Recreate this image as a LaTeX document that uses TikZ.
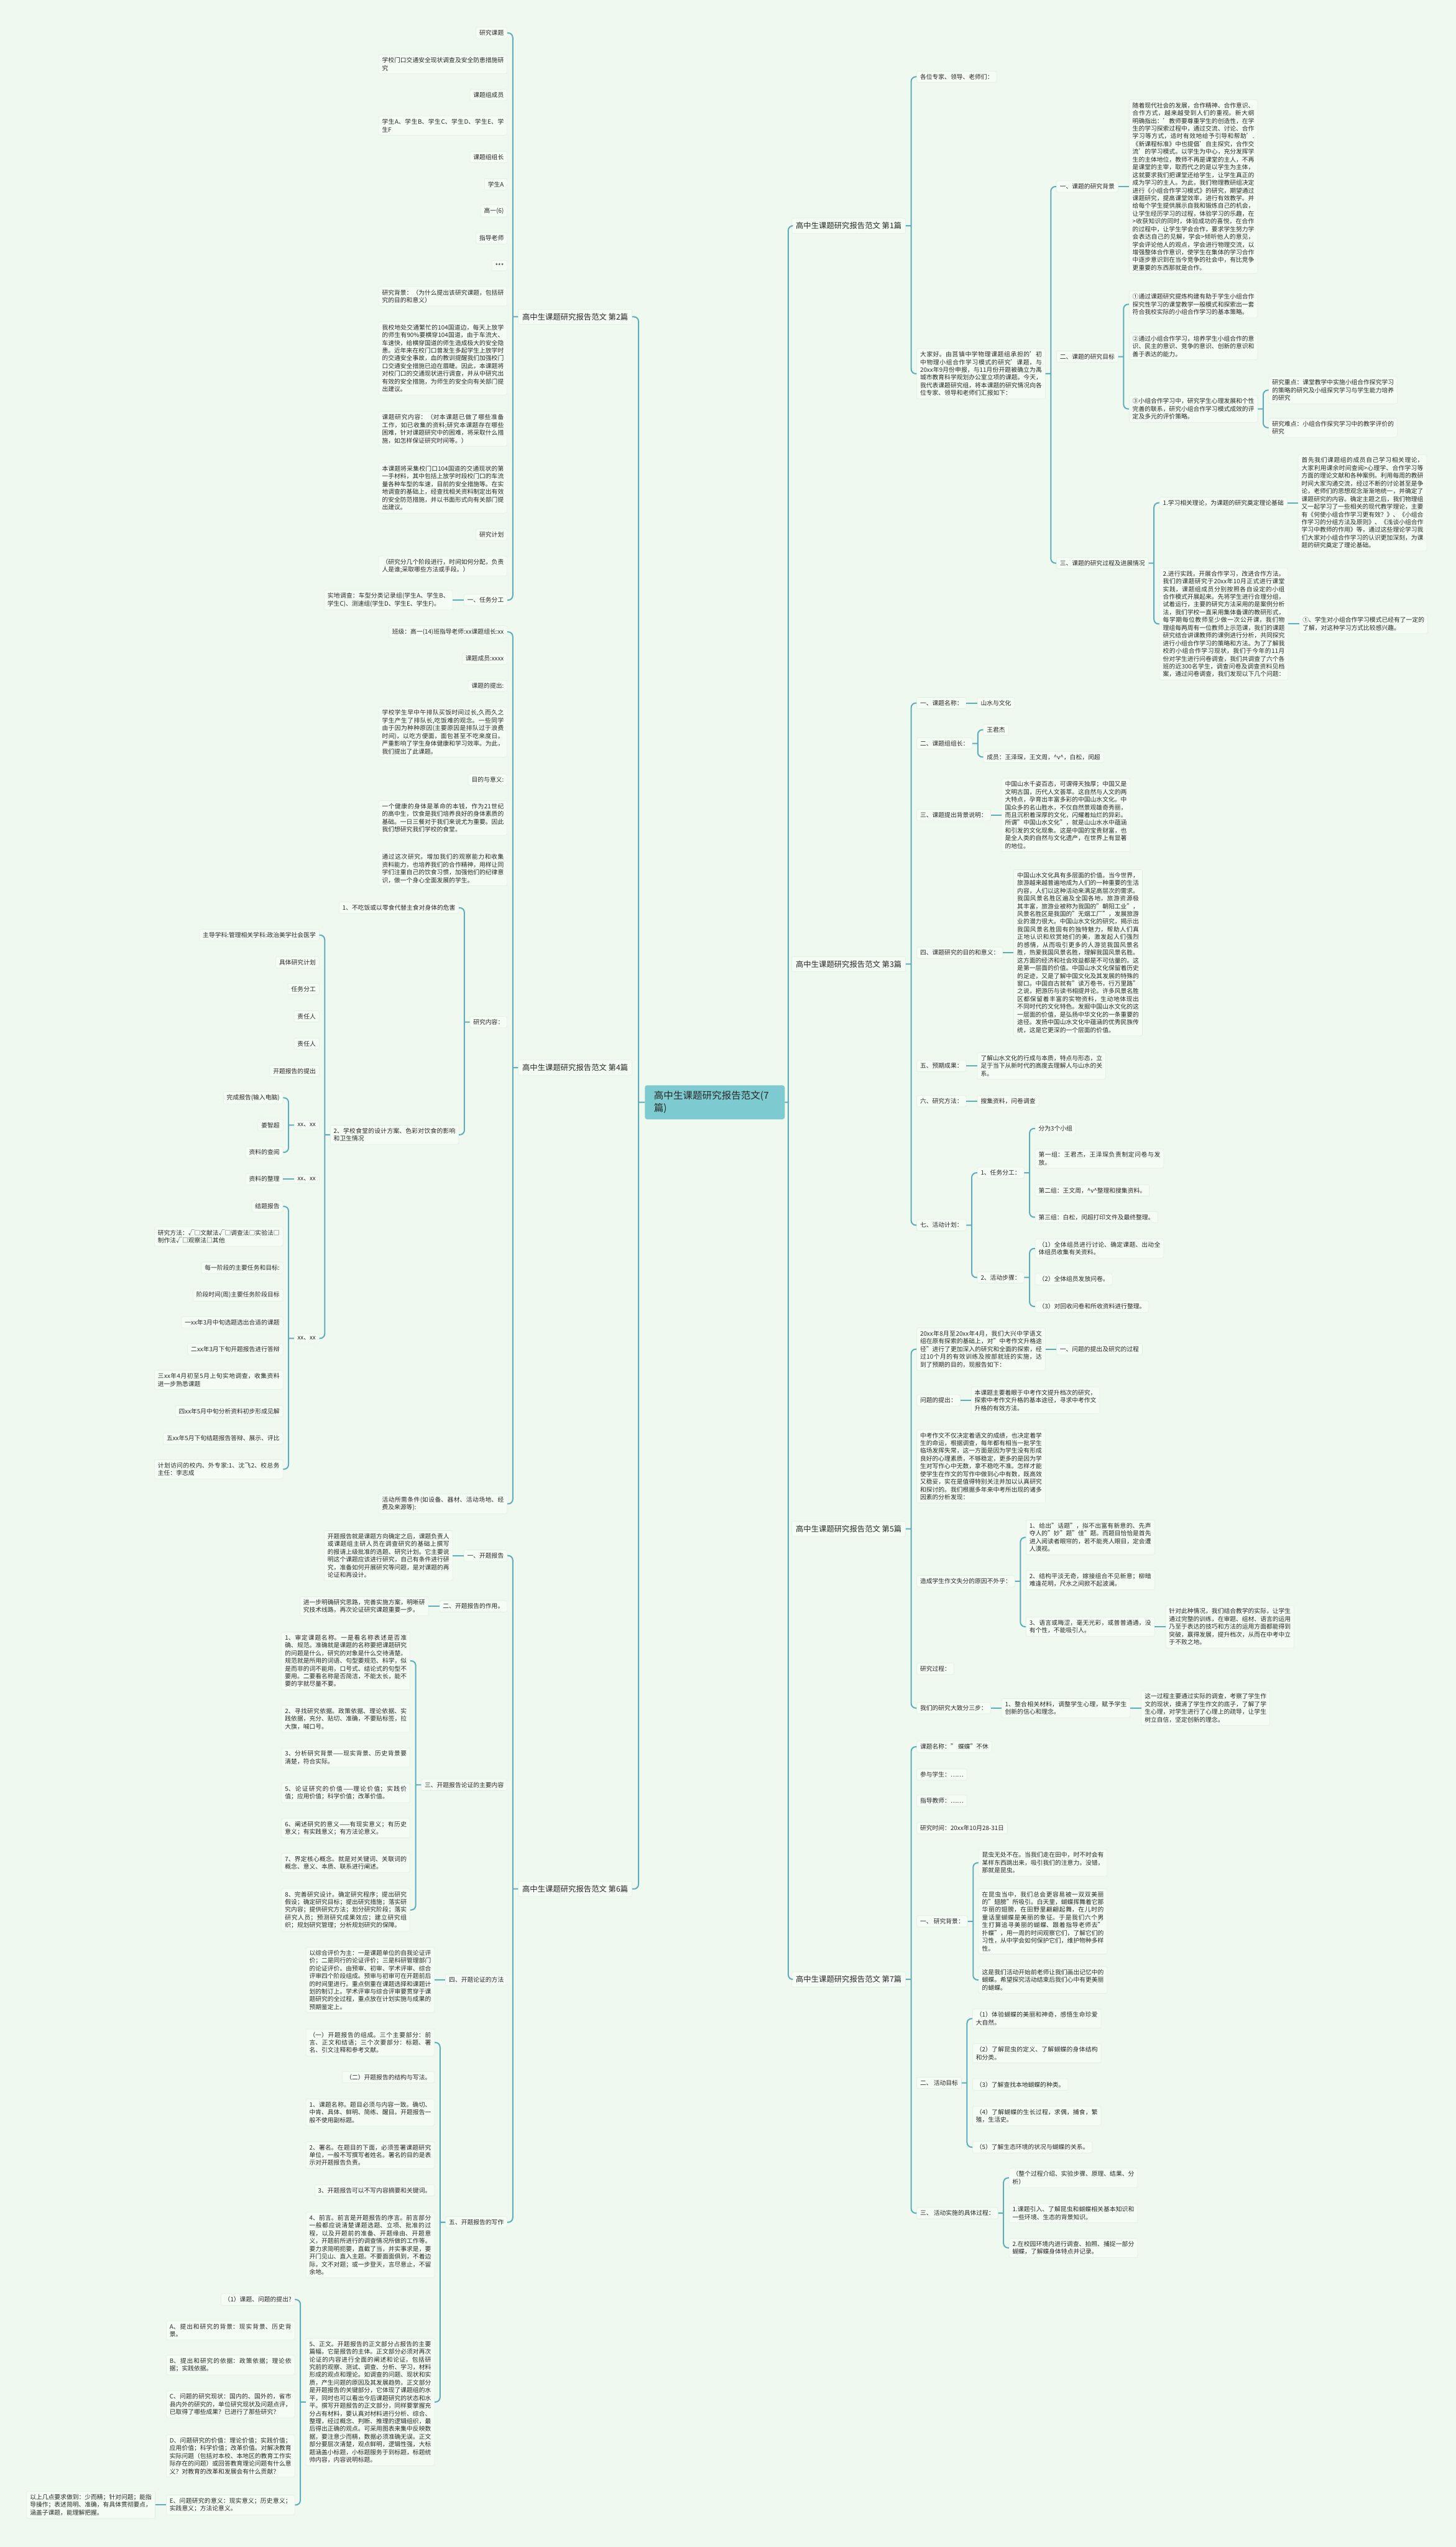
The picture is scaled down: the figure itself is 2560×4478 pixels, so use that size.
\documentclass[tikz,border=0pt]{standalone}
\usepackage{fontspec}
\setmainfont{Noto Sans CJK SC}
\usetikzlibrary{calc}
\XeTeXlinebreaklocale "zh"
\XeTeXlinebreakskip=0pt plus 1pt
\tolerance=9999
\emergencystretch=2em

\definecolor{bgc}{RGB}{239,249,240}
\definecolor{boxc}{RGB}{245,252,246}
\definecolor{edgec}{RGB}{222,238,226}
\definecolor{wirec}{RGB}{96,173,186}
\definecolor{hubc}{RGB}{125,203,209}
\definecolor{inkc}{RGB}{40,40,40}

\newcommand\txtleaf{\fontsize{10.7pt}{13.6pt}\selectfont}
\newcommand\txtsect{\fontsize{13.5pt}{16pt}\selectfont}
\newcommand\txthub{\fontsize{17pt}{22pt}\selectfont}

\newcommand\forkR[3]{\draw[wire] (#1.east) -- ($(#1.east)!.5!(#1.east -| #2.west)$) coordinate (fk) (#2.west) -| (fk) |- (#3.west);}
\newcommand\forkL[3]{\draw[wire] (#1.west) -- ($(#1.west)!.5!(#1.west -| #2.east)$) coordinate (fk) (#2.east) -| (fk) |- (#3.east);}
\newcommand\tieR[2]{\draw[wire] (#1.east) -- (#2.west);}
\newcommand\tieL[2]{\draw[wire] (#1.west) -- (#2.east);}

\tikzset{
  box/.style={draw=edgec, fill=boxc, rounded corners=3pt, text=inkc, font=\txtleaf, inner xsep=6pt, inner ysep=5pt, line width=0.6pt},
  para/.style={box, text width=214pt, align=justify},
  sect/.style={box, font=\txtsect, inner xsep=7pt, inner ysep=7pt},
  hub/.style={fill=hubc, rounded corners=4pt, text=inkc, font=\txthub, text width=214pt, align=left, inner xsep=16pt, inner ysep=10pt},
  wire/.style={draw=wirec, line width=2.2pt, rounded corners=8pt},
  toR/.style={anchor=west, xshift=19pt},
  toL/.style={anchor=east, xshift=-19pt}
}

\begin{document}
\begin{tikzpicture}[x=1pt, y=-1pt]
\fill[bgc] (0,0) rectangle (2560,4478);
\useasboundingbox (0,0) rectangle (2560,4478);

\node[hub] (root) at (1257,1938) {高中生课题研究报告范文(7\\篇)};

\node[sect, anchor=east, xshift=-22pt] (s2) at (root.west |- 0,557) {高中生课题研究报告范文 第2篇};
\node[sect, anchor=east, xshift=-22pt] (s4) at (root.west |- 0,1877) {高中生课题研究报告范文 第4篇};
\node[sect, anchor=east, xshift=-22pt] (s6) at (root.west |- 0,3321) {高中生课题研究报告范文 第6篇};
\node[sect, anchor=west, xshift=12pt] (s1) at (root.east |- 0,397) {高中生课题研究报告范文 第1篇};
\node[sect, anchor=west, xshift=12pt] (s3) at (root.east |- 0,1695) {高中生课题研究报告范文 第3篇};
\node[sect, anchor=west, xshift=12pt] (s5) at (root.east |- 0,2688) {高中生课题研究报告范文 第5篇};
\node[sect, anchor=west, xshift=12pt] (s7) at (root.east |- 0,3480) {高中生课题研究报告范文 第7篇};
\forkL{root}{s2}{s6}
\forkR{root}{s1}{s7}

\node[box, toL] (s2a) at (s2.west |- 0,58) {研究课题};
\node[para, toL] (s2b) at (s2.west |- 0,113) {学校门口交通安全现状调查及安全防患措施研究};
\node[box, toL] (s2c) at (s2.west |- 0,167) {课题组成员};
\node[para, toL] (s2d) at (s2.west |- 0,221) {学生A、学生B、学生C、学生D、学生E、学生F};
\node[box, toL] (s2e) at (s2.west |- 0,276) {课题组组长};
\node[box, toL] (s2f) at (s2.west |- 0,324) {学生A};
\node[box, toL] (s2g) at (s2.west |- 0,371) {高一(6)};
\node[box, toL] (s2h) at (s2.west |- 0,419) {指导老师};
\node[box, toL] (s2i) at (s2.west |- 0,467) {***};
\node[para, toL] (s2j) at (s2.west |- 0,521) {研究背景：（为什么提出该研究课题，包括研究的目的和意义）};
\node[para, toL] (s2k) at (s2.west |- 0,630) {我校地处交通繁忙的104国道边，每天上放学的师生有90\%要横穿104国道，由于车流大、车速快，给横穿国道的师生造成极大的安全隐患。近年来在校门口曾发生多起学生上放学时的交通安全事故，血的教训提醒我们加强校门口交通安全措施已迫在眉睫。因此，本课题将对校门口的交通现状进行调查，并从中研究出有效的安全措施，为师生的安全向有关部门提出建议。};
\node[para, toL] (s2l) at (s2.west |- 0,754) {课题研究内容：（对本课题已做了哪些准备工作，如已收集的资料;研究本课题存在哪些困难，针对课题研究中的困难，将采取什么措施，如怎样保证研究时间等。）};
\node[para, toL] (s2m) at (s2.west |- 0,858) {本课题将采集校门口104国道的交通现状的第一手材料，其中包括上放学时段校门口的车流量各种车型的车速，目前的安全措施等。在实地调查的基础上，经查找相关资料制定出有效的安全防范措施，并以书面形式向有关部门提出建议。};
\node[box, toL] (s2n) at (s2.west |- 0,940) {研究计划};
\node[para, toL] (s2o) at (s2.west |- 0,995) {（研究分几个阶段进行，时间如何分配，负责人是谁;采取哪些方法或手段。）};
\node[box, toL] (s2p) at (s2.west |- 0,1055) {一、任务分工};
\node[para, toL] (s2p1) at (s2p.west |- 0,1055) {实地调查：车型分类记录组(学生A、学生B、学生C)、测速组(学生D、学生E、学生F)。};
\forkL{s2}{s2a}{s2p}
\tieL{s2p}{s2p1}

\node[box, toL] (s4a) at (s4.west |- 0,1111) {班级：高一(14)班指导老师:xx课题组长:xx};
\node[box, toL] (s4b) at (s4.west |- 0,1158) {课题成员:xxxx};
\node[box, toL] (s4c) at (s4.west |- 0,1206) {课题的提出:};
\node[para, toL] (s4d) at (s4.west |- 0,1287) {学校学生早中午排队买饭时间过长,久而久之学生产生了排队长,吃饭难的观念。一些同学由于因为种种原因(主要原因是排队过于浪费时间)，以吃方便面，面包甚至不吃来度日。严重影响了学生身体健康和学习效率。为此，我们提出了此课题。};
\node[box, toL] (s4e) at (s4.west |- 0,1371) {目的与意义:};
\node[para, toL] (s4f) at (s4.west |- 0,1438) {一个健康的身体是革命的本钱，作为21世纪的高中生，饮食是我们培养良好的身体素质的基础。一日三餐对于我们来说尤为重要。因此我们想研究我们学校的食堂。};
\node[para, toL] (s4g) at (s4.west |- 0,1527) {通过这次研究，增加我们的观察能力和收集资料能力，也培养我们的合作精神，用样让同学们注重自己的饮食习惯，加强他们的纪律意识，做一个身心全面发展的学生。};
\node[box, toL] (s4h) at (s4.west |- 0,1797) {研究内容：};
\node[para, toL] (s4i) at (s4.west |- 0,2644) {活动所需条件(如设备、器材、活动场地、经费及来源等):};
\forkL{s4}{s4a}{s4i}

\node[box, toL] (s4h1) at (s4h.west |- 0,1596) {1、不吃饭或以零食代替主食对身体的危害};
\node[para, toL] (s4h2) at (s4h.west |- 0,1995) {2、学校食堂的设计方案、色彩对饮食的影响和卫生情况};
\forkL{s4h}{s4h1}{s4h2}

\node[box, toL] (s4h2a) at (s4h2.west |- 0,1644) {主导学科:管理相关学科:政治美学社会医学};
\node[box, toL] (s4h2b) at (s4h2.west |- 0,1692) {具体研究计划};
\node[box, toL] (s4h2c) at (s4h2.west |- 0,1739) {任务分工};
\node[box, toL] (s4h2d) at (s4h2.west |- 0,1787) {责任人};
\node[box, toL] (s4h2e) at (s4h2.west |- 0,1835) {责任人};
\node[box, toL] (s4h2f) at (s4h2.west |- 0,1883) {开题报告的提出};
\node[box, toL] (s4h2g) at (s4h2.west |- 0,1978) {xx、xx};
\node[box, toL] (s4h2h) at (s4h2.west |- 0,2073) {xx、xx};
\node[box, toL] (s4h2i) at (s4h2.west |- 0,2353) {xx、xx};
\forkL{s4h2}{s4h2a}{s4h2i}

\node[box, toL] (s4h2g1) at (s4h2g.west |- 0,1930) {完成报告(输入电脑)};
\node[box, toL] (s4h2g2) at (s4h2g.west |- 0,1978) {娄智超};
\node[box, toL] (s4h2g3) at (s4h2g.west |- 0,2026) {资料的查阅};
\forkL{s4h2g}{s4h2g1}{s4h2g3}
\node[box, toL] (s4h2h1) at (s4h2h.west |- 0,2073) {资料的整理};
\tieL{s4h2h}{s4h2h1}

\node[box, toL] (s4h2i1) at (s4h2i.west |- 0,2121) {结题报告};
\node[para, toL] (s4h2i2) at (s4h2i.west |- 0,2174) {研究方法：√□文献法√□调查法□实验法□制作法√□观察法□其他};
\node[box, toL] (s4h2i3) at (s4h2i.west |- 0,2229) {每一阶段的主要任务和目标:};
\node[box, toL] (s4h2i4) at (s4h2i.west |- 0,2277) {阶段时间(周)主要任务阶段目标};
\node[box, toL] (s4h2i5) at (s4h2i.west |- 0,2325) {一xx年3月中旬选题选出合适的课题};
\node[box, toL] (s4h2i6) at (s4h2i.west |- 0,2372) {二xx年3月下旬开题报告进行答辩};
\node[para, toL] (s4h2i7) at (s4h2i.west |- 0,2426) {三xx年4月初至5月上旬实地调查，收集资料进一步熟悉课题};
\node[box, toL] (s4h2i8) at (s4h2i.west |- 0,2481) {四xx年5月中旬分析资料初步形成见解};
\node[box, toL] (s4h2i9) at (s4h2i.west |- 0,2529) {五xx年5月下旬结题报告答辩、展示、评比};
\node[para, toL] (s4h2i10) at (s4h2i.west |- 0,2583) {计划访问的校内、外专家:1、沈飞2、校总务主任：李志成};
\forkL{s4h2i}{s4h2i1}{s4h2i10}

\node[box, toL] (s6a) at (s6.west |- 0,2735) {一、开题报告};
\node[box, toL] (s6b) at (s6.west |- 0,2824) {二、开题报告的作用。};
\node[box, toL] (s6c) at (s6.west |- 0,3138) {三、开题报告论证的主要内容};
\node[box, toL] (s6d) at (s6.west |- 0,3481) {四、开题论证的方法};
\node[box, toL] (s6e) at (s6.west |- 0,3907) {五、开题报告的写作};
\forkL{s6}{s6a}{s6e}

\node[para, toL] (s6a1) at (s6a.west |- 0,2735) {开题报告就是课题方向确定之后，课题负责人或课题组主研人员在调查研究的基础上撰写的报请上级批准的选题、研究计划。它主要说明这个课题应该进行研究，自己有条件进行研究，准备如何开展研究等问题，是对课题的再论证和再设计。};
\tieL{s6a}{s6a1}
\node[para, toL] (s6b1) at (s6b.west |- 0,2824) {进一步明确研究思路，完善实施方案，明晰研究技术线路，再次论证研究课题重要一步。};
\tieL{s6b}{s6b1}

\node[para, toL] (s6c1) at (s6c.west |- 0,2920) {1、审定课题名称。一是看名称表述是否准确、规范。准确就是课题的名称要把课题研究的问题是什么，研究的对象是什么交待清楚。规范就是所用的词语、句型要规范、科学，似是而非的词不能用，口号式、结论式的句型不要用。二要看名称是否简洁，不能太长，能不要的字就尽量不要。};
\node[para, toL] (s6c2) at (s6c.west |- 0,3022) {2、寻找研究依据。政策依据、理论依据、实践依据，充分、贴切、准确，不要贴标签，拉大旗，喊口号。};
\node[para, toL] (s6c3) at (s6c.west |- 0,3090) {3、分析研究背景——现实背景、历史背景要清楚，符合实际。};
\node[para, toL] (s6c4) at (s6c.west |- 0,3152) {5、论证研究的价值——理论价值；实践价值；应用价值；科学价值；改革价值。};
\node[para, toL] (s6c5) at (s6c.west |- 0,3214) {6、阐述研究的意义——有现实意义；有历史意义；有实践意义；有方法论意义。};
\node[para, toL] (s6c6) at (s6c.west |- 0,3275) {7、界定核心概念。就是对关键词、关联词的概念、意义、本质、联系进行阐述。};
\node[para, toL] (s6c7) at (s6c.west |- 0,3358) {8、完善研究设计。确定研究程序；提出研究假设；确定研究目标；提出研究措施；落实研究内容；提供研究方法；划分研究阶段；落实研究人员；预测研究成果效应；建立研究组织；规划研究管理；分析规划研究的保障。};
\forkL{s6c}{s6c1}{s6c7}

\node[para, toL] (s6d1) at (s6d.west |- 0,3481) {以综合评价为主：一是课题单位的自我论证评价；二是同行的论证评价；三是科研管理部门的论证评价。由预审、初审、学术评审、综合评审四个阶段组成。预审与初审可在开题前后的时间里进行。重点侧重在课题选择和课题计划的制订上。学术评审与综合评审要贯穿于课题研究的全过程，重点放在计划实施与成果的预期鉴定上。};
\tieL{s6d}{s6d1}

\node[para, toL] (s6e1) at (s6e.west |- 0,3591) {（一）开题报告的组成。三个主要部分：前言、正文和结语；三个次要部分：标题、署名、引文注释和参考文献。};
\node[box, toL] (s6e2) at (s6e.west |- 0,3652) {（二）开题报告的结构与写法。};
\node[para, toL] (s6e3) at (s6e.west |- 0,3714) {1、课题名称。题目必须与内容一致。确切、中肯、具体、鲜明、简练、醒目。开题报告一般不使用副标题。};
\node[para, toL] (s6e4) at (s6e.west |- 0,3789) {2、署名。在题目的下面，必须签署课题研究单位，一般不写撰写者姓名。署名的目的是表示对开题报告负责。};
\node[box, toL] (s6e5) at (s6e.west |- 0,3851) {3、开题报告可以不写内容摘要和关键词。};
\node[para, toL] (s6e6) at (s6e.west |- 0,3947) {4、前言。前言是开题报告的序言。前言部分一般都应说清楚课题选题、立项、批准的过程，以及开题前的准备、开题缘由、开题意义，开题前所进行的调查情况所做的工作等。要力求简明扼要，直截了当，并实事求是，要开门见山、直入主题。不要面面俱到，不着边际，文不对题；或一步登天，言尽意止，不留余地。};
\node[para, toL] (s6e7) at (s6e.west |- 0,4223) {5、正文。开题报告的正文部分占报告的主要篇幅，它是报告的主体。正文部分必须对再次论证的内容进行全面的阐述和论证，包括研究前的观察、测试、调查、分析、学习，材料形成的观点和理论。如调查的问题、现状和实质，产生问题的原因及其发展趋势。正文部分是开题报告的关键部分，它体现了课题组的水平，同时也可以看出今后课题研究的状态和水平。撰写开题报告的正文部分，同样要掌握充分占有材料，要认真对材料进行分析、综合、整理，经过概念、判断、推理的逻辑组织，最后得出正确的观点。可采用图表来集中反映数据，要注意少而精，数据必须准确无误。正文部分要层次清楚，观点鲜明，逻辑性强，大标题涵盖小标题，小标题服务于到标题，标题统帅内容，内容说明标题。};
\forkL{s6e}{s6e1}{s6e7}

\node[box, toL] (s6e7a) at (s6e7.west |- 0,4043) {（1）课题、问题的提出?};
\node[para, toL] (s6e7b) at (s6e7.west |- 0,4097) {A、提出和研究的背景：现实背景、历史背景。};
\node[para, toL] (s6e7c) at (s6e7.west |- 0,4158) {B、提出和研究的依据：政策依据；理论依据；实践依据。};
\node[para, toL] (s6e7d) at (s6e7.west |- 0,4227) {C、问题的研究现状：国内的、国外的，省市县内外的研究的，单位研究现状及问题点评，已取得了哪些成果？已进行了那些研究？};
\node[para, toL] (s6e7e) at (s6e7.west |- 0,4318) {D、问题研究的价值：理论价值；实践价值；应用价值；科学价值；改革价值。对解决教育实际问题（包括对本校、本地区的教育工作实际存在的问题）或回答教育理论问题有什么意义？对教育的改革和发展会有什么贡献？};
\node[para, toL] (s6e7f) at (s6e7.west |- 0,4404) {E、问题研究的意义：现实意义；历史意义；实践意义；方法论意义。};
\forkL{s6e7}{s6e7a}{s6e7f}
\node[para, toL] (s6e7f1) at (s6e7f.west |- 0,4404) {以上几点要求做到：少而精；针对问题；能指导操作；表述简明、准确，有具体贯彻要点，涵盖子课题，能理解把握。};
\tieL{s6e7f}{s6e7f1}

\node[box, toR] (s1a) at (s1.east |- 0,135) {各位专家、领导、老师们：};
\node[para, toR] (s1b) at (s1.east |- 0,657) {大家好。由莒镇中学物理课题组承担的'初中物理小组合作学习模式的研究'课题，与20xx年9月份申报，与11月份开题被确立为禹城市教育科学规划办公室立项的课题。今天，我代表课题研究组，将本课题的研究情况向各位专家、领导和老师们汇报如下：};
\forkR{s1}{s1a}{s1b}

\node[box, toR] (s1b1) at (s1b.east |- 0,328) {一、课题的研究背景};
\node[box, toR] (s1b2) at (s1b.east |- 0,627) {二、课题的研究目标};
\node[box, toR] (s1b3) at (s1b.east |- 0,990) {三、课题的研究过程及进展情况};
\forkR{s1b}{s1b1}{s1b3}

\node[para, toR] (s1b1a) at (s1b1.east |- 0,328) {随着现代社会的发展，合作精神、合作意识、合作方式，越来越受到人们的重视。新大纲明确指出：'教师要尊重学生的创造性，在学生的学习探索过程中，通过交流、讨论、合作学习等方式，适时有效地给予引导和帮助'.《新课程标准》中也提倡'自主探究，合作交流'的学习模式。以学生为中心，充分发挥学生的主体地位，教师不再是课堂的主人，不再是课堂的主宰，取而代之的是以学生为主体，这就要求我们把课堂还给学生，让学生真正的成为学习的主人。为此，我们物理教研组决定进行《小组合作学习模式》的研究，期望通过课题研究，提高课堂效率，进行有效教学。并给每个学生提供展示自我和锻炼自己的机会，让学生经历学习的过程，体验学习的乐趣，在>收获知识的同时，体验成功的喜悦，在合作的过程中，让学生学会合作，要求学生努力学会表达自己的见解，学会>倾听他人的意见，学会评论他人的观点，学会进行物理交流，以增强整体合作意识，使学生在集体的学习合作中逐步意识到在当今竞争的社会中，有比竞争更重要的东西那就是合作。};
\tieR{s1b1}{s1b1a}

\node[para, toR] (s1b2a) at (s1b2.east |- 0,535) {①通过课题研究提炼构建有助于学生小组合作探究性学习的课堂教学一般模式和探索出一套符合我校实际的小组合作学习的基本策略。};
\node[para, toR] (s1b2b) at (s1b2.east |- 0,609) {②通过小组合作学习，培养学生小组合作的意识、民主的意识、竞争的意识、创新的意识和善于表达的能力。};
\node[para, toR] (s1b2c) at (s1b2.east |- 0,719) {③小组合作学习中，研究学生心理发展和个性完善的联系，研究小组合作学习模式成效的评定及多元的评价策略。};
\forkR{s1b2}{s1b2a}{s1b2c}
\node[para, toR] (s1b2c1) at (s1b2c.east |- 0,686) {研究重点：课堂教学中实施小组合作探究学习的策略的研究及小组探究学习与学生能力培养的研究};
\node[para, toR] (s1b2c2) at (s1b2c.east |- 0,752) {研究难点：小组合作探究学习中的教学评价的研究};
\forkR{s1b2c}{s1b2c1}{s1b2c2}

\node[box, toR] (s1b3a) at (s1b3.east |- 0,884) {1.学习相关理论，为课题的研究奠定理论基础};
\node[para, toR] (s1b3b) at (s1b3.east |- 0,1097) {2.进行实践，开展合作学习，改进合作方法。我们的课题研究于20xx年10月正式进行课堂实践，课题组成员分别按照各自设定的小组合作模式开展起来。先将学生进行合理分组，试着运行，主要的研究方法采用的是案例分析法，我们学校一直采用集体备课的教研形式，每学期每位教师至少做一次公开课，我们物理组每两周有一位教师上示范课，我们的课题研究结合讲课教师的课例进行分析，共同探究进行小组合作学习的策略和方法。为了了解我校的小组合作学习现状，我们于今年的11月份对学生进行问卷调查，我们共调查了六个各班的近300名学生，调查问卷及调查资料见档案，通过问卷调查，我们发现以下几个问题：};
\forkR{s1b3}{s1b3a}{s1b3b}
\node[para, toR] (s1b3a1) at (s1b3a.east |- 0,884) {首先我们课题组的成员自己学习相关理论，大家利用课余时间查阅>心理学、合作学习等方面的理论文献和各种案例。利用每周的教研时间大家沟通交流，经过不断的讨论甚至是争论，老师们的思想观念渐渐地统一，并确定了课题研究的内容。确定主题之后，我们物理组又一起学习了一些相关的现代教学理论，主要有《何使小组合作学习更有效？》、《小组合作学习的分组方法及原则》、《浅谈小组合作学习中教师的作用》等，通过这些理论学习我们大家对小组合作学习的认识更加深刻，为课题的研究奠定了理论基础。};
\tieR{s1b3a}{s1b3a1}
\node[para, toR] (s1b3b1) at (s1b3b.east |- 0,1097) {①、学生对小组合作学习模式已经有了一定的了解，对这种学习方式比较感兴趣。};
\tieR{s1b3b}{s1b3b1}

\node[box, toR] (s3a) at (s3.east |- 0,1236) {一、课题名称：};
\node[box, toR] (s3b) at (s3.east |- 0,1307) {二、课题组组长：};
\node[box, toR] (s3c) at (s3.east |- 0,1433) {三、课题提出背景说明：};
\node[box, toR] (s3d) at (s3.east |- 0,1675) {四、课题研究的目的和意义：};
\node[box, toR] (s3e) at (s3.east |- 0,1874) {五、预期成果：};
\node[box, toR] (s3f) at (s3.east |- 0,1936) {六、研究方法：};
\node[box, toR] (s3g) at (s3.east |- 0,2154) {七、活动计划：};
\forkR{s3}{s3a}{s3g}

\node[box, toR] (s3a1) at (s3a.east |- 0,1236) {山水与文化};
\tieR{s3a}{s3a1}
\node[box, toR] (s3b1) at (s3b.east |- 0,1283) {王君杰};
\node[box, toR] (s3b2) at (s3b.east |- 0,1331) {成员：王泽琛，王文周，\textasciicircum v\textasciicircum，白松，闵超};
\forkR{s3b}{s3b1}{s3b2}
\node[para, toR] (s3c1) at (s3c.east |- 0,1433) {中国山水千姿百态，可谓得天独厚；中国又是文明古国，历代人文荟萃。这自然与人文的两大特点，孕育出丰富多彩的中国山水文化。中国众多的名山胜水，不仅自然景观雄奇秀丽，而且沉积着深厚的文化，闪耀着灿烂的异彩。所谓"中国山水文化"，就是山山水水中蕴涵和引发的文化现象。这是中国的宝贵财富，也是全人类的自然与文化遗产，在世界上有显著的地位。};
\tieR{s3c}{s3c1}
\node[para, toR] (s3d1) at (s3d.east |- 0,1675) {中国山水文化具有多层面的价值。当今世界，旅游越来越普遍地成为人们的一种重要的生活内容，人们以这种活动来满足高层次的需求。我国风景名胜区遍及全国各地，旅游资源极其丰富，旅游业被称为我国的"朝阳工业"，风景名胜区是我国的"无烟工厂"，发展旅游业的潜力很大。中国山水文化的研究，揭示出我国风景名胜固有的独特魅力，帮助人们真正地认识和欣赏她们的美，激发起人们强烈的感情，从而吸引更多的人游览我国风景名胜，热爱我国风景名胜，理解我国风景名胜。这方面的经济和社会效益都是不可估量的。这是第一层面的价值。中国山水文化保留着历史的足迹，又是了解中国文化及其发展的特殊的窗口。中国自古就有"读万卷书，行万里路"之说，把游历与读书相提并论。许多风景名胜区都保留着丰富的实物资料，生动地体现出不同时代的文化特色。发掘中国山水文化的这一层面的价值，是弘扬中华文化的一条重要的途径。发扬中国山水文化中蕴涵的优秀民族传统，这是它更深的一个层面的价值。};
\tieR{s3d}{s3d1}
\node[para, toR] (s3e1) at (s3e.east |- 0,1874) {了解山水文化的行成与本质，特点与形态，立足于当下从新时代的高度去理解人与山水的关系。};
\tieR{s3e}{s3e1}
\node[box, toR] (s3f1) at (s3f.east |- 0,1936) {搜集资料，问卷调查};
\tieR{s3f}{s3f1}

\node[box, toR] (s3g1) at (s3g.east |- 0,2062) {1、任务分工：};
\node[box, toR] (s3g2) at (s3g.east |- 0,2246) {2、活动步骤：};
\forkR{s3g}{s3g1}{s3g2}
\node[box, toR] (s3g1a) at (s3g1.east |- 0,1984) {分为3个小组};
\node[para, toR] (s3g1b) at (s3g1.east |- 0,2037) {第一组：王君杰，王泽琛负责制定问卷与发放。};
\node[box, toR] (s3g1c) at (s3g1.east |- 0,2093) {第二组：王文周，\textasciicircum v\textasciicircum 整理和搜集资料。};
\node[box, toR] (s3g1d) at (s3g1.east |- 0,2140) {第三组：白松，闵超打印文件及最终整理。};
\forkR{s3g1}{s3g1a}{s3g1d}
\node[para, toR] (s3g2a) at (s3g2.east |- 0,2195) {（1）全体组员进行讨论、确定课题、出动全体组员收集有关资料。};
\node[box, toR] (s3g2b) at (s3g2.east |- 0,2249) {（2）全体组员发放问卷。};
\node[box, toR] (s3g2c) at (s3g2.east |- 0,2297) {（3）对回收问卷和所收资料进行整理。};
\forkR{s3g2}{s3g2a}{s3g2c}

\node[para, toR] (s5a) at (s5.east |- 0,2372) {20xx年8月至20xx年4月，我们大兴中学语文组在原有探索的基础上，对"中考作文升格途径"进行了更加深入的研究和全面的探索，经过10个月的有效训练及按部就班的实施，达到了预期的目的，现报告如下：};
\node[box, toR] (s5b) at (s5.east |- 0,2462) {问题的提出：};
\node[para, toR] (s5c) at (s5.east |- 0,2578) {中考作文不仅决定着语文的成绩，也决定着学生的命运，根据调查，每年都有相当一批学生临场发挥失常，这一方面是因为学生没有形成良好的心理素质，不够稳定，更多的是因为学生对写作心中无数，拿不稳吃不准。怎样才能使学生在作文的写作中做到心中有数，既高效又稳妥，实在是值得特别关注并加以认真研究和探讨的。我们根据多年来中考所出现的诸多因素的分析发现：};
\node[box, toR] (s5d) at (s5.east |- 0,2780) {造成学生作文失分的原因不外乎：};
\node[box, toR] (s5e) at (s5.east |- 0,2934) {研究过程：};
\node[box, toR] (s5f) at (s5.east |- 0,3003) {我们的研究大致分三步：};
\forkR{s5}{s5a}{s5f}

\node[box, toR] (s5a1) at (s5a.east |- 0,2372) {一、问题的提出及研究的过程};
\tieR{s5a}{s5a1}
\node[para, toR] (s5b1) at (s5b.east |- 0,2462) {本课题主要着眼于中考作文提升档次的研究，探索中考作文升格的基本途径，寻求中考作文升格的有效方法。};
\tieR{s5b}{s5b1}
\node[para, toR] (s5d1) at (s5d.east |- 0,2703) {1、给出"话题"，拟不出富有新意的、先声夺人的"妙"题"佳"题。而题目恰恰是首先进入阅读者眼帘的，若不能亮人眼目，定会遭人漠视。};
\node[para, toR] (s5d2) at (s5d.east |- 0,2778) {2、结构平淡无奇，嫁接组合不见新意；柳暗难逢花明，尺水之间掀不起波澜。};
\node[para, toR] (s5d3) at (s5d.east |- 0,2860) {3、语言或晦涩，毫无光彩，或普普通通，没有个性，不能吸引人。};
\forkR{s5d}{s5d1}{s5d3}
\node[para, toR] (s5d3a) at (s5d3.east |- 0,2860) {针对此种情况，我们结合教学的实际，让学生通过完整的训练，在审题、组材、语言的运用乃至于表达的技巧和方法的运用方面都能得到突破，赢得发展，提升档次，从而在中考中立于不败之地。};
\tieR{s5d3}{s5d3a}
\node[para, toR] (s5f1) at (s5f.east |- 0,3003) {1、整合相关材料，调整学生心理，赋予学生创新的信心和理念。};
\tieR{s5f}{s5f1}
\node[para, toR] (s5f1a) at (s5f1.east |- 0,3003) {这一过程主要通过实际的调查，考察了学生作文的现状，摸清了学生作文的底子，了解了学生心理，对学生进行了心理上的疏导，让学生树立自信，坚定创新的理念。};
\tieR{s5f1}{s5f1a}

\node[box, toR] (s7a) at (s7.east |- 0,3071) {课题名称：" 蝶蝶"不休};
\node[box, toR] (s7b) at (s7.east |- 0,3120) {参与学生：……};
\node[box, toR] (s7c) at (s7.east |- 0,3166) {指导教师：……};
\node[box, toR] (s7d) at (s7.east |- 0,3214) {研究时间：20xx年10月28-31日};
\node[box, toR] (s7e) at (s7.east |- 0,3378) {一、 研究背景：};
\node[box, toR] (s7f) at (s7.east |- 0,3662) {二、 活动目标};
\node[box, toR] (s7g) at (s7.east |- 0,3891) {三、 活动实施的具体过程：};
\forkR{s7}{s7a}{s7g}

\node[para, toR] (s7e1) at (s7e.east |- 0,3275) {昆虫无处不在。当我们走在田中，时不时会有某样东西跳出来，吸引我们的注意力。没错，那就是昆虫。};
\node[para, toR] (s7e2) at (s7e.east |- 0,3378) {在昆虫当中，我们总会更容易被一双双美丽的"翅膀"所吸引。白天里，蝴蝶挥舞着它那华丽的翅膀，在田野里翩翩起舞，在儿时的童话里蝴蝶是美丽的象征。于是我们六个男生打算追寻美丽的蝴蝶、跟着指导老师去"扑蝶"，用一周的时间观察它们，了解它们的习性，从中学会如何保护它们，维护物种多样性。};
\node[para, toR] (s7e3) at (s7e.east |- 0,3481) {这是我们活动开始前老师让我们画出记忆中的蝴蝶。希望探究活动结束后我们心中有更美丽的蝴蝶。};
\forkR{s7e}{s7e1}{s7e3}

\node[para, toR] (s7f1) at (s7f.east |- 0,3549) {（1）体验蝴蝶的美丽和神奇，感悟生命珍爱大自然。};
\node[para, toR] (s7f2) at (s7f.east |- 0,3610) {（2）了解昆虫的定义、了解蝴蝶的身体结构和分类。};
\node[box, toR] (s7f3) at (s7f.east |- 0,3665) {（3）了解查找本地蝴蝶的种类。};
\node[para, toR] (s7f4) at (s7f.east |- 0,3720) {（4）了解蝴蝶的生长过程，求偶，捕食，繁殖，生活史。};
\node[box, toR] (s7f5) at (s7f.east |- 0,3775) {（5）了解生态环境的状况与蝴蝶的关系。};
\forkR{s7f}{s7f1}{s7f5}

\node[para, toR] (s7g1) at (s7g.east |- 0,3829) {（整个过程介绍、实验步骤、原理、结果、分析）};
\node[para, toR] (s7g2) at (s7g.east |- 0,3891) {1.课题引入、了解昆虫和蝴蝶相关基本知识和一些环境、生态的背景知识。};
\node[para, toR] (s7g3) at (s7g.east |- 0,3952) {2.在校园环境内进行调查、拍照、捕捉一部分蝴蝶，了解蝶身体特点并记录。};
\forkR{s7g}{s7g1}{s7g3}
\end{tikzpicture}
\end{document}
